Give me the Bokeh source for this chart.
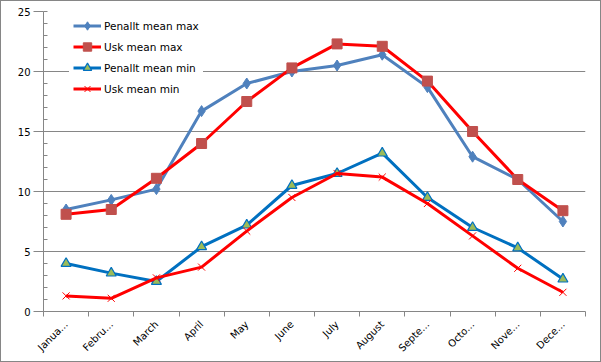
from bokeh.plotting import figure
from bokeh.models import Range1d, FixedTicker, Legend, LegendItem
from bokeh.embed import file_html
from bokeh.resources import INLINE
from math import pi

months = ["January", "February", "March", "April", "May", "June", "July",
          "August", "September", "October", "November", "December"]
month_labels = ["Janua...", "Febru...", "March", "April", "May", "June", "July",
                "August", "Septe...", "Octo...", "Nove...", "Dece..."]
penallt_max = [8.5, 9.3, 10.2, 16.7, 19.0, 20.0, 20.5, 21.4, 18.7, 12.9, 11.0, 7.5]
usk_max = [8.1, 8.5, 11.1, 14.0, 17.5, 20.3, 22.3, 22.1, 19.2, 15.0, 11.0, 8.4]
penallt_min = [4.0, 3.2, 2.5, 5.4, 7.2, 10.5, 11.5, 13.2, 9.5, 7.0, 5.3, 2.7]
usk_min = [1.3, 1.1, 2.8, 3.7, 6.7, 9.5, 11.5, 11.2, 9.0, 6.3, 3.6, 1.6]
y_ticks = [0, 5, 10, 15, 20, 25]

FONT = "DejaVu Sans"
AXIS_GRAY = "#868686"

xs = [i + 0.5 for i in range(len(months))]

p = figure(width=601, height=362, output_backend="svg", toolbar_location=None,
           x_range=Range1d(0, len(months)), y_range=Range1d(0, 25),
           min_border_left=42, min_border_right=17, min_border_top=10,
           min_border_bottom=52)
p.outline_line_color = None
p.background_fill_color = "white"
p.border_fill_color = "white"
p.styles = {"border": "1px solid #868686", "box-sizing": "border-box"}

# x axis: labels at centres, tick marks at category boundaries
p.xaxis.ticker = FixedTicker(ticks=xs, minor_ticks=list(range(len(months) + 1)))
p.xaxis.major_label_overrides = {x: lab for x, lab in zip(xs, month_labels)}
p.xaxis.major_label_orientation = pi / 4
p.xaxis.major_tick_out = 0
p.xaxis.major_tick_in = 0
p.xaxis.minor_tick_out = 5
p.xaxis.minor_tick_in = 0
p.xaxis.minor_tick_line_color = AXIS_GRAY
p.xaxis.axis_line_color = AXIS_GRAY
p.xaxis.major_label_text_font = FONT
p.xaxis.major_label_text_font_size = "10px"
p.xaxis.major_label_text_color = "black"
p.xaxis.major_label_standoff = 6
p.xgrid.visible = False

# y axis
p.yaxis.ticker = FixedTicker(ticks=y_ticks, minor_ticks=list(range(0, 26)))
p.yaxis.major_tick_out = 10
p.yaxis.major_tick_in = 0
p.yaxis.minor_tick_out = 0
p.yaxis.minor_tick_in = 4
p.yaxis.major_tick_line_color = AXIS_GRAY
p.yaxis.minor_tick_line_color = AXIS_GRAY
p.yaxis.axis_line_color = AXIS_GRAY
p.yaxis.major_label_text_font = FONT
p.yaxis.major_label_text_font_size = "10px"
p.yaxis.major_label_text_color = "black"
p.yaxis.major_label_standoff = 3
p.ygrid.grid_line_color = AXIS_GRAY
p.ygrid.grid_line_width = 1

lw = 3
l1 = p.line(xs, penallt_max, line_color="#4F81BD", line_width=lw)
m1 = p.scatter(xs, penallt_max, marker="diamond", size=11,
               fill_color="#4F81BD", line_color="#4F81BD")
l2 = p.line(xs, usk_max, line_color="#FF0000", line_width=lw)
m2 = p.scatter(xs, usk_max, marker="square", size=10,
               fill_color="#C0504D", line_color="#C0504D")
l3 = p.line(xs, penallt_min, line_color="#0070C0", line_width=lw)
m3 = p.scatter(xs, penallt_min, marker="triangle", size=10,
               fill_color="#9BBB59", line_color="#0070C0", line_width=1.2)
l4 = p.line(xs, usk_min, line_color="#FF0000", line_width=lw)
m4 = p.scatter(xs, usk_min, marker="x", size=10, line_color="#FF0000",
               line_width=1)

legend = Legend(items=[
    LegendItem(label="Penallt mean max", renderers=[l1, m1]),
    LegendItem(label="Usk mean max", renderers=[l2, m2]),
    LegendItem(label="Penallt mean min", renderers=[l3, m3]),
    LegendItem(label="Usk mean min", renderers=[l4, m4]),
], location=(26, 208))
legend.padding = 0
legend.spacing = 0
legend.label_height = 21
legend.glyph_height = 21
legend.glyph_width = 28
legend.label_standoff = 3
legend.label_text_font = FONT
legend.label_text_font_size = "10.5px"
legend.label_text_color = "black"
legend.border_line_color = "white"
legend.border_line_width = 4
legend.background_fill_color = "white"
legend.background_fill_alpha = 1.0
legend.margin = 0
p.add_layout(legend)

open("out.html", "w").write(file_html(p, INLINE))
